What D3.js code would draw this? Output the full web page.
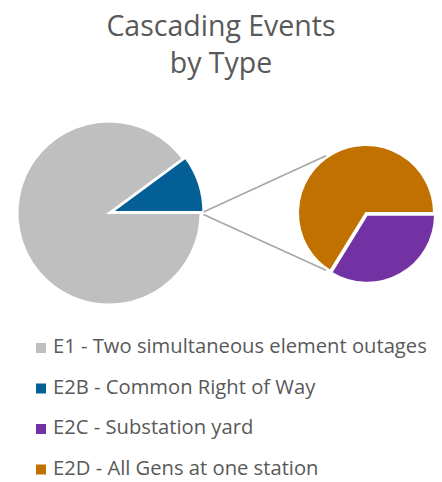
<!DOCTYPE html>
<html>
<head>
<meta charset="utf-8">
<script src="https://cdn.jsdelivr.net/npm/d3@7"></script>
<style>
  html, body { margin: 0; padding: 0; background: #ffffff; }
  svg { display: block; }
</style>
</head>
<body>
<svg id="chart" width="442" height="482"></svg>
<script>
// Chart content
const titleLines = ["Cascading Events", "by Type"];

// Primary pie: overall split of cascading events (%)
const mainCategories = ["E2B", "E1"];
const mainValues = [10.1, 89.9];

// Secondary pie: breakdown shown in the detail pie (%)
const detailCategories = ["E2C", "E2D"];
const detailValues = [33.8, 66.2];

// Legend entries
const legendCodes = ["E1", "E2B", "E2C", "E2D"];
const legendLabels = [
  "E1 - Two simultaneous element outages",
  "E2B - Common Right of Way",
  "E2C - Substation yard",
  "E2D - All Gens at one station"
];

const color = d3.scaleOrdinal()
  .domain(["E1", "E2B", "E2C", "E2D"])
  .range(["#bfbfbf", "#045f97", "#7232a3", "#c07100"]);

const svg = d3.select("#chart");
const font = "'Open Sans', 'Noto Sans', sans-serif";

// Title
svg.append("g").selectAll("text")
  .data(titleLines)
  .join("text")
  .attr("x", 221)
  .attr("y", (d, i) => 36 + i * 37)
  .attr("text-anchor", "middle")
  .attr("font-family", font)
  .attr("font-size", 28.5)
  .attr("fill", "#595959")
  .text(d => d);

// Primary pie geometry
const mainC = { x: 109, y: 213 }, mainR = 91.5;
const mainShare = mainValues[0] / d3.sum(mainValues);
const mainPie = d3.pie().sort(null).value(d => d.v)
  .startAngle(Math.PI / 2 - mainShare * 2 * Math.PI)
  .endAngle(Math.PI / 2 - mainShare * 2 * Math.PI + 2 * Math.PI);
const mainArcs = mainPie(mainCategories.map((c, i) => ({ c, v: mainValues[i] })));
const mainArc = d3.arc().innerRadius(0).outerRadius(mainR);

const gMain = svg.append("g").attr("transform", `translate(${mainC.x},${mainC.y})`);
gMain.selectAll("path")
  .data(mainArcs)
  .join("path")
  .attr("d", mainArc)
  .attr("transform", d => {
    if (d.data.c !== "E2B") return null;
    const [cx, cy] = mainArc.centroid(d);
    const len = Math.hypot(cx, cy), off = 3;
    return `translate(${cx / len * off},${cy / len * off})`;
  })
  .attr("fill", d => color(d.data.c))
  .attr("stroke", "#ffffff")
  .attr("stroke-width", 2);

// Secondary pie geometry
const detC = { x: 366, y: 213 }, detR = 68;
const detPie = d3.pie().sort(null).value(d => d.v)
  .startAngle(Math.PI / 2).endAngle(Math.PI / 2 + 2 * Math.PI);
const detArcs = detPie(detailCategories.map((c, i) => ({ c, v: detailValues[i] })));
const detArc = d3.arc().innerRadius(0).outerRadius(detR);

// Connector lines from the primary slice to the detail pie
const tangentAngle = 55 * Math.PI / 180;
const lineStart = { x: mainC.x + mainR + 3, y: mainC.y };
const connectorEnds = [-1, 1].map(s => ({
  x: detC.x - detR * Math.cos(tangentAngle) - 1,
  y: detC.y + s * detR * Math.sin(tangentAngle) + s * 1.5
}));
svg.append("g").selectAll("line")
  .data(connectorEnds)
  .join("line")
  .attr("x1", lineStart.x)
  .attr("y1", (d, i) => lineStart.y + (i ? 1.5 : -1))
  .attr("x2", d => d.x)
  .attr("y2", d => d.y)
  .attr("stroke", "#a6a6a6")
  .attr("stroke-width", 1.5);

const gDet = svg.append("g").attr("transform", `translate(${detC.x},${detC.y})`);
gDet.selectAll("path")
  .data(detArcs)
  .join("path")
  .attr("d", detArc)
  .attr("transform", d => {
    if (d.data.c !== "E2C") return null;
    const [cx, cy] = detArc.centroid(d);
    const len = Math.hypot(cx, cy), off = 2;
    return `translate(${cx / len * off},${cy / len * off})`;
  })
  .attr("fill", d => color(d.data.c))
  .attr("stroke", "#ffffff")
  .attr("stroke-width", 2);

// Legend
const legend = svg.append("g").selectAll("g")
  .data(legendCodes)
  .join("g")
  .attr("transform", (d, i) => `translate(36,${353 + i * 40.5})`);
legend.append("rect")
  .attr("x", 0).attr("y", -10)
  .attr("width", 10).attr("height", 10)
  .attr("fill", d => color(d));
legend.append("text")
  .attr("x", 17).attr("y", 0)
  .attr("font-family", font)
  .attr("font-size", 20.2)
  .attr("fill", "#595959")
  .text((d, i) => legendLabels[i]);
</script>
</body>
</html>
